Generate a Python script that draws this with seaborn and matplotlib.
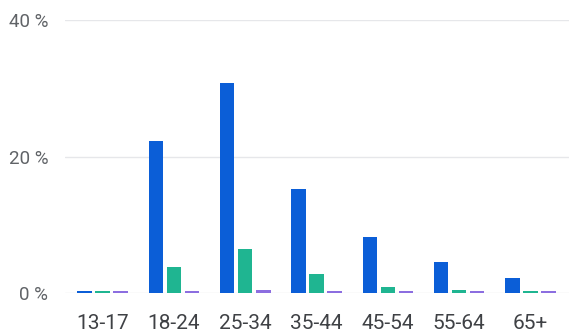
import matplotlib
matplotlib.use("Agg")
import matplotlib.pyplot as plt
import seaborn as sns
import pandas as pd

age_groups = ["13-17", "18-24", "25-34", "35-44", "45-54", "55-64", "65+"]
series_names = ["A", "B", "C"]
series_a = [0.3, 22.3, 30.8, 15.2, 8.2, 4.5, 2.2]
series_b = [0.3, 3.8, 6.4, 2.8, 0.9, 0.5, 0.3]
series_c = [0.3, 0.3, 0.5, 0.3, 0.3, 0.3, 0.3]
y_ticks = [0, 20, 40]

palette = ["#0b5ed7", "#1fb591", "#8c6ee0"]

df = pd.DataFrame({
    "age": age_groups * 3,
    "series": sum([[s] * len(age_groups) for s in series_names], []),
    "value": series_a + series_b + series_c,
})

sns.set_theme(style="white")
plt.rcParams["font.family"] = ["Roboto", "DejaVu Sans"]

fig = plt.figure(figsize=(5.69, 3.33), dpi=100)
ax = fig.add_axes([0.114, 0.12, 0.886, 0.82])

sns.barplot(data=df, x="age", y="value", hue="series", order=age_groups,
            hue_order=series_names, palette=palette, width=0.76, gap=0.2,
            saturation=1, legend=False, ax=ax, errorbar=None, linewidth=0)

ax.set_ylim(0, 40)
ax.set_xlim(-0.53, 6.54)
ax.set_yticks(y_ticks)
ax.set_yticklabels([f"{t} %" for t in y_ticks])
ax.yaxis.grid(True, color="#e6e7ea", linewidth=1)
ax.set_axisbelow(True)
for s in ax.spines.values():
    s.set_visible(False)
ax.set_xlabel("")
ax.set_ylabel("")
ax.tick_params(axis="y", length=0, pad=12, labelsize=13.5, labelcolor="#606367")
ax.tick_params(axis="x", length=0, pad=15, labelsize=15, labelcolor="#3f4145")

fig.savefig("out.png", dpi=100, facecolor="white")
